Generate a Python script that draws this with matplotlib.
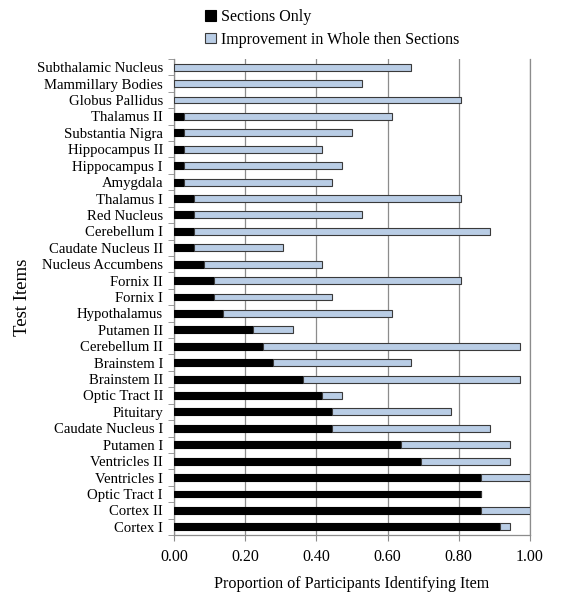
import matplotlib
matplotlib.use("Agg")
import matplotlib.pyplot as plt
from matplotlib.patches import Patch
import numpy as np

plt.rcParams['font.family'] = ['Liberation Serif', 'DejaVu Serif']

items = ["Subthalamic Nucleus", "Mammillary Bodies", "Globus Pallidus", "Thalamus II",
         "Substantia Nigra", "Hippocampus II", "Hippocampus I", "Amygdala", "Thalamus I",
         "Red Nucleus", "Cerebellum I", "Caudate Nucleus II", "Nucleus Accumbens",
         "Fornix II", "Fornix I", "Hypothalamus", "Putamen II", "Cerebellum II",
         "Brainstem I", "Brainstem II", "Optic Tract II", "Pituitary", "Caudate Nucleus I",
         "Putamen I", "Ventricles II", "Ventricles I", "Optic Tract I", "Cortex II", "Cortex I"]

sections_only = [0.000, 0.000, 0.000, 0.028, 0.028, 0.028, 0.028, 0.028, 0.056,
                 0.056, 0.056, 0.056, 0.083, 0.111, 0.111, 0.139, 0.222, 0.250,
                 0.278, 0.361, 0.417, 0.444, 0.444, 0.639, 0.694, 0.861, 0.861,
                 0.861, 0.917]

total_whole_then_sections = [0.667, 0.528, 0.806, 0.611, 0.500, 0.417, 0.472, 0.444, 0.806,
                             0.528, 0.889, 0.306, 0.417, 0.806, 0.444, 0.611, 0.333, 0.972,
                             0.667, 0.972, 0.472, 0.778, 0.889, 0.944, 0.944, 1.000, 0.861,
                             1.000, 0.944]

improvement = [t - s for t, s in zip(total_whole_then_sections, sections_only)]

xticks = [0.0, 0.2, 0.4, 0.6, 0.8, 1.0]
xticklabels = ["0.00", "0.20", "0.40", "0.60", "0.80", "1.00"]

W, H = 572, 599
fig = plt.figure(figsize=(W / 100, H / 100), dpi=100)
ax = fig.add_axes([174 / W, (H - 535) / H, 356 / W, 476 / H])

n = len(items)
y = np.arange(n)[::-1]
bh = 0.42
grid_c = "#8c8c8c"

ax.barh(y, sections_only, height=bh, color="black", edgecolor="black", linewidth=0.8, zorder=3)
ax.barh(y, improvement, left=sections_only, height=bh, color="#b9cde5",
        edgecolor="#3a3a3a", linewidth=0.8, zorder=3)

ax.set_xlim(0, 1.0)
ax.set_ylim(-0.5, n - 0.5)
ax.set_xticks(xticks)
ax.set_xticklabels(xticklabels, fontsize=11.5)
ax.set_yticks(y)
ax.set_yticklabels(items, fontsize=10.6)
ax.set_yticks(np.arange(n + 1) - 0.5, minor=True)
ax.tick_params(axis='y', which='major', length=0, pad=8)
ax.tick_params(axis='y', which='minor', length=4, color=grid_c, direction='out')
ax.tick_params(axis='x', which='major', length=4, color=grid_c, direction='out', pad=6)
ax.xaxis.grid(True, color=grid_c, linewidth=0.9, zorder=0)
ax.set_axisbelow(True)

ax.spines['top'].set_visible(False)
for s in ['left', 'bottom', 'right']:
    ax.spines[s].set_color(grid_c)
    ax.spines[s].set_linewidth(0.9)

ax.set_xlabel("Proportion of Participants Identifying Item", fontsize=11.6, labelpad=8)
ax.set_ylabel("Test Items", fontsize=13.5, labelpad=4)

handles = [Patch(facecolor="black", edgecolor="black", linewidth=0.8),
           Patch(facecolor="#b9cde5", edgecolor="#3a3a3a", linewidth=0.8)]
fig.legend(handles, ["Sections Only", "Improvement in Whole then Sections"],
           loc="upper left", bbox_to_anchor=(199 / W, 1 - 3 / H), frameon=False,
           fontsize=11.5, handlelength=0.65, handleheight=0.65, handletextpad=0.3,
           labelspacing=0.4, borderaxespad=0)

fig.savefig("out.png", dpi=100)
